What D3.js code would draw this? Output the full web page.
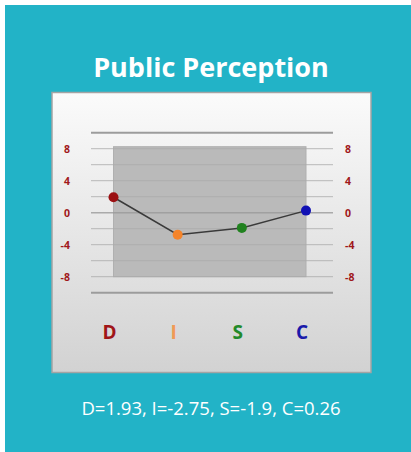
<!DOCTYPE html>
<head>
    <meta charset="utf-8">
    <style>
        body { margin: 0; background: #fff; }
        text { font-family: "Open Sans", "DejaVu Sans", sans-serif; }
    </style>
</head>
<body>
    <svg width="411" height="452"></svg>
    <script src="https://d3js.org/d3.v7.min.js"></script>
    <script>

    // data
    var categories = ["D", "I", "S", "C"];
    var values = [1.93, -2.75, -1.9, 0.26];
    var tickValues = [8, 4, 0, -4, -8];
    var gridValues = [8, 6, 4, 2, 0, -2, -4, -6, -8];
    var colors = ["#9b0f12", "#f5842a", "#21821f", "#1010b4"];
    var labelColors = ["#a01518", "#f09a55", "#238a2a", "#1a1aaa"];

    var svg = d3.select("svg");

    svg.append("rect")
        .attr("x", 5).attr("y", 5)
        .attr("width", 406).attr("height", 447)
        .attr("fill", "#22b3c7");

    svg.append("text")
        .attr("x", 211).attr("y", 77)
        .attr("text-anchor", "middle")
        .attr("fill", "#fff")
        .style("font-size", "27px")
        .style("font-weight", "bold")
        .text("Public Perception");

    var defs = svg.append("defs");
    var grad = defs.append("linearGradient")
        .attr("id", "panel").attr("x1", 0).attr("y1", 0).attr("x2", 0).attr("y2", 1);
    grad.append("stop").attr("offset", "0%").attr("stop-color", "#fbfbfb");
    grad.append("stop").attr("offset", "100%").attr("stop-color", "#d2d2d2");

    svg.append("rect")
        .attr("x", 52).attr("y", 92.5)
        .attr("width", 319).attr("height", 280)
        .attr("fill", "url(#panel)")
        .attr("stroke", "#a4a4a4")
        .attr("stroke-width", 1.5);

    var x = d3.scalePoint().domain(categories).range([113.5, 306]);
    var y = d3.scaleLinear().domain([-10, 10]).range([292.7, 132.7]);

    // shaded plot area
    svg.append("rect")
        .attr("x", x("D")).attr("y", y(8.25))
        .attr("width", x("C") - x("D"))
        .attr("height", y(-8) - y(8.25))
        .attr("fill", "#bababa")
        .attr("stroke", "#b0b0b0");

    svg.append("g").selectAll("line")
        .data(gridValues)
        .enter().append("line")
        .attr("x1", 91).attr("x2", 333)
        .attr("y1", function(d) { return y(d); })
        .attr("y2", function(d) { return y(d); })
        .attr("stroke", function(d) { return d === 0 ? "#9a9a9a" : "#aaaaaa"; })
        .attr("stroke-opacity", 0.8)
        .attr("stroke-width", function(d) { return d === 0 ? 1.5 : 1; });

    svg.append("g").selectAll("line")
        .data([10, -10])
        .enter().append("line")
        .attr("x1", 91).attr("x2", 333)
        .attr("y1", function(d) { return y(d); })
        .attr("y2", function(d) { return y(d); })
        .attr("stroke", "#9c9c9c")
        .attr("stroke-width", 2);

    // tick labels both sides
    svg.append("g").selectAll("text")
        .data(tickValues)
        .enter().append("text")
        .attr("x", 70)
        .attr("y", function(d) { return y(d) + 4; })
        .attr("text-anchor", "end")
        .attr("fill", "#a0181b")
        .style("font-size", "10.5px")
        .style("font-weight", "bold")
        .text(function(d) { return d; });

    svg.append("g").selectAll("text")
        .data(tickValues)
        .enter().append("text")
        .attr("x", 345)
        .attr("y", function(d) { return y(d) + 4; })
        .attr("text-anchor", "start")
        .attr("fill", "#a0181b")
        .style("font-size", "10.5px")
        .style("font-weight", "bold")
        .text(function(d) { return d; });

    var line = d3.line()
        .x(function(d, i) { return x(categories[i]); })
        .y(function(d) { return y(d); });

    svg.append("path")
        .datum(values)
        .attr("d", line)
        .attr("fill", "none")
        .attr("stroke", "#3a3a3a")
        .attr("stroke-width", 1.5);

    svg.append("g").selectAll("circle")
        .data(values)
        .enter().append("circle")
        .attr("cx", function(d, i) { return x(categories[i]); })
        .attr("cy", function(d) { return y(d); })
        .attr("r", 5)
        .attr("fill", function(d, i) { return colors[i]; });

    svg.append("g").selectAll("text")
        .data(categories)
        .enter().append("text")
        .attr("x", function(d) { return x(d) - 4; })
        .attr("y", 339)
        .attr("text-anchor", "middle")
        .attr("fill", function(d, i) { return labelColors[i]; })
        .style("font-size", "19px")
        .style("font-weight", "bold")
        .text(function(d) { return d; });

    svg.append("text")
        .attr("x", 211).attr("y", 415)
        .attr("text-anchor", "middle")
        .attr("fill", "#fff")
        .style("font-size", "18.5px")
        .text(categories.map(function(c, i) { return c + "=" + values[i]; }).join(", "));

    </script>
</body>
